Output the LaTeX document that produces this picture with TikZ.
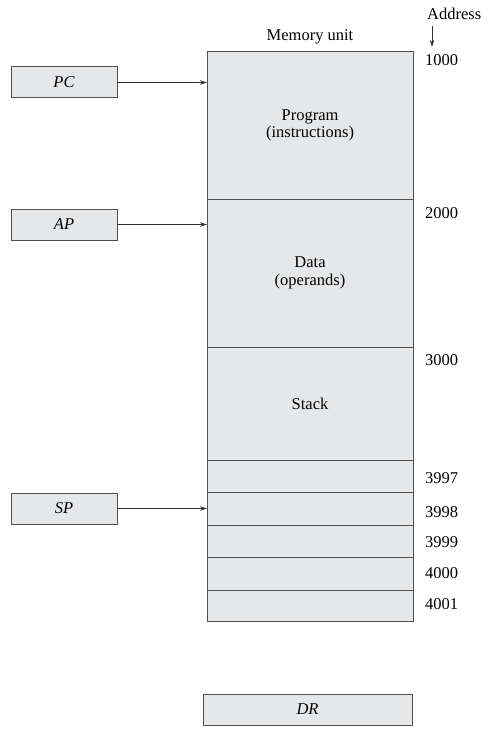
\documentclass[tikz,border=0pt]{standalone}
\usepackage{fontspec}
\setmainfont{Liberation Serif}
\usetikzlibrary{arrows.meta}
\definecolor{cellfill}{HTML}{E6E7E9}
\definecolor{edge}{HTML}{505050}
\newcommand{\labelfont}{\fontsize{16.5}{17.5}\selectfont}
\tikzset{
  cell/.style={draw=edge, line width=1pt, fill=cellfill, anchor=north west,
    inner sep=0pt, outer sep=0pt, align=center, font=\labelfont},
  reg/.style={cell, font=\labelfont\itshape},
  addr/.style={anchor=west, inner sep=0pt, font=\labelfont},
  ptr/.style={-{Stealth[length=7pt,width=4.5pt]}, line width=0.8pt, draw=black!80},
}
\begin{document}
\begin{tikzpicture}[x=1pt,y=1pt]
\useasboundingbox (0,0) rectangle (490,-730);

% memory unit, divided into regions and words
\node[cell, minimum width=206pt, minimum height=147pt] (prog) at (207,-52) {Program\\(instructions)};
\node[cell, minimum width=206pt, minimum height=148pt] (data) at (207,-199) {Data\\(operands)};
\node[cell, minimum width=206pt, minimum height=113pt] (stack) at (207,-347) {Stack};
\node[cell, minimum width=206pt, minimum height=32pt] (w3997) at (207,-460) {};
\node[cell, minimum width=206pt, minimum height=33pt] (w3998) at (207,-492) {};
\node[cell, minimum width=206pt, minimum height=32pt] (w3999) at (207,-525) {};
\node[cell, minimum width=206pt, minimum height=33pt] (w4000) at (207,-557) {};
\node[cell, minimum width=206pt, minimum height=31pt] (w4001) at (207,-590) {};

\node[font=\labelfont] (title) at (310,-37) {Memory unit};

% addresses
\node[addr] (addrhead) at (427,-14) {Address};
\coordinate (atop) at (432,-26);
\coordinate (abot) at (432,-47);
\draw[ptr] (atop) -- (abot);
\node[addr] (a1000) at (425,-60) {1000};
\node[addr] (a2000) at (425,-213) {2000};
\node[addr] (a3000) at (425,-360) {3000};
\node[addr] (a3997) at (425,-478) {3997};
\node[addr] (a3998) at (425,-512) {3998};
\node[addr] (a3999) at (425,-542) {3999};
\node[addr] (a4000) at (425,-573) {4000};
\node[addr] (a4001) at (425,-604) {4001};

% registers
\node[reg, minimum width=106pt, minimum height=31pt] (pc) at (11,-67) {PC};
\node[reg, minimum width=106pt, minimum height=31pt] (ap) at (11,-209) {AP};
\node[reg, minimum width=106pt, minimum height=31pt] (sp) at (11,-493) {SP};
\node[reg, minimum width=209pt, minimum height=31pt] (dr) at (203,-694) {DR};

\draw[ptr] (pc.east) -- (pc.east -| prog.west);
\draw[ptr] (ap.east) -- (ap.east -| data.west);
\draw[ptr] (sp.east) -- (sp.east -| w3998.west);
\end{tikzpicture}
\end{document}
